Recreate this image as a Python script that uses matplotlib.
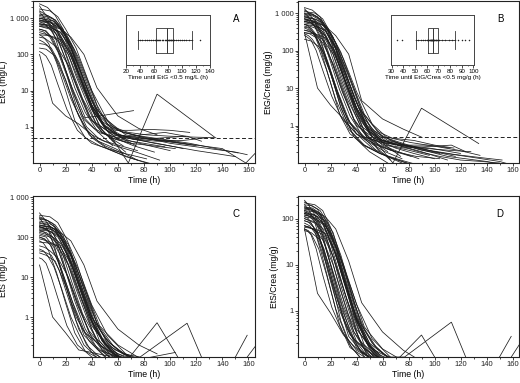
import matplotlib
matplotlib.use('Agg')
import matplotlib.pyplot as plt
from matplotlib.ticker import FixedLocator, FuncFormatter, LogLocator, MultipleLocator, NullFormatter

plt.rcParams['font.family'] = ['Liberation Sans', 'DejaVu Sans']

# ---------------- data: sampling times (h) per subject ----------------
times = [
    [0, 3, 7, 12, 18, 25, 33, 42, 55, 70],
    [0, 4, 9, 15, 22, 30, 38, 48, 62, 80, 96],
    [0, 10, 20, 30, 40, 50, 62, 75],
    [0, 8, 16, 24, 32, 42, 54, 68, 90, 134],
    [0, 6, 14, 22, 30, 40, 52, 64, 77, 113, 124],
    [0, 8, 16, 26, 36, 46, 60, 80, 100, 130, 150, 159],
    [0, 10, 20, 30, 40, 52, 66, 85, 110, 140, 158, 166],
    [0, 3, 8, 14, 21, 29, 40, 54, 70],
    [0, 4, 9, 16, 25, 35, 46, 60, 72],
    [0, 8, 16, 24, 34, 44, 60, 76, 90],
    [0, 4, 8, 14, 22, 30, 38, 48, 58, 70, 86, 104],
    [0, 6, 12, 18, 24, 32, 40, 50, 60, 76, 96, 120],
    [0, 8, 16, 24, 32, 40, 48, 58, 70, 84, 100, 115],
    [0, 3, 6, 11, 17, 24, 34, 45, 58, 75],
    [0, 6, 12, 20, 28, 38, 48, 60, 72, 90, 110, 128],
    [0, 8, 16, 24, 32, 42, 52, 64, 78, 95, 115, 135, 152],
    [0, 5, 12, 20, 28, 38, 50, 64],
    [0, 4, 10, 16, 22, 28, 36, 44, 54, 64],
    [0, 3, 8, 14, 21, 28, 36, 46, 58, 74, 92],
    [0, 8, 14, 20, 28, 36, 44, 52, 62, 74],
    [0, 3, 7, 13, 20, 27, 35, 46, 58, 72, 88],
    [0, 8, 16, 24, 34, 44, 56, 68, 82, 100, 118, 135],
    [0, 6, 12, 18, 26, 34, 42, 50, 60, 72, 88],
    [0, 2, 5, 9, 14, 21, 29, 40, 52, 66, 82],
    [0, 5, 11, 18, 25, 33, 43, 56, 72, 90, 110],
    [0, 6, 12, 18, 24, 30, 38, 46, 56, 66],
    [0, 5, 11, 18, 26, 34, 45, 60, 78, 96, 112],
    [0, 4, 10, 16, 22, 30, 38, 48, 58, 70, 84, 100],
    [0, 4, 9, 15, 22, 30, 40, 52, 66, 82],
    [0, 8, 14, 22, 30, 38, 46, 54, 64, 76, 90, 104],
    [0, 6, 12, 18, 24, 32, 40, 48, 58],
    [0, 8, 16, 24, 32, 40, 50, 60, 72, 86, 100, 116],
    [0, 3, 8, 13, 20, 27, 35, 45, 56],
    [0, 6, 14, 22, 30, 40, 50, 62, 74, 88, 104, 120, 136, 150],
]

# EtG (mg/L)
etg = [
    [1500, 1100, 700, 300, 60, 10, 2, 0.9, 0.5, 0.35],
    [800, 700, 450, 200, 50, 9, 1.8, 0.7, 0.45, 0.35, 0.28],
    [100, 4.5, 2.0, 1.2, 0.6, 0.4, 0.3, 0.22],
    [600, 500, 300, 90, 15, 2.5, 0.6, 0.1, 8, 0.52],
    [400, 350, 250, 100, 20, 3, 0.8, 0.5, 0.45, 0.55, 0.4],
    [900, 800, 500, 150, 20, 2.5, 0.8, 0.5, 0.35, 0.25, 0.2, 0.17],
    [1000, 850, 400, 80, 10, 1.5, 0.6, 0.45, 0.35, 0.25, 0.1, 0.2],
    [2200, 1500, 900, 400, 80, 12, 1.5, 0.7, 0.5],
    [500, 450, 300, 90, 12, 1.8, 2.0, 2.4, 2.8],
    [700, 650, 500, 300, 100, 12, 2, 0.9, 0.6],
    [300, 280, 220, 150, 50, 10, 2, 0.7, 0.45, 0.35, 0.3, 0.25],
    [1100, 1000, 800, 400, 150, 25, 4, 1, 0.6, 0.5, 0.4, 0.3],
    [700, 600, 400, 150, 30, 5, 1.4, 0.8, 0.8, 0.85, 0.8, 0.7],
    [250, 220, 180, 100, 30, 6, 1, 0.4, 0.25, 0.12],
    [1300, 1200, 900, 350, 70, 8, 1.2, 0.6, 0.45, 0.4, 0.42, 0.5],
    [600, 550, 420, 160, 30, 4, 1.2, 0.7, 0.55, 0.45, 0.35, 0.25, 0.19],
    [150, 140, 90, 20, 3, 0.6, 0.3, 0.18],
    [900, 800, 600, 300, 100, 25, 5, 1.1, 0.5, 0.3],
    [450, 420, 300, 120, 25, 4, 1, 0.45, 0.3, 0.2, 0.12],
    [1800, 1600, 1100, 500, 150, 25, 4, 1.2, 0.5, 0.3],
    [350, 300, 200, 60, 10, 1.5, 0.5, 0.3, 0.2, 0.13, 0.09],
    [800, 750, 550, 200, 25, 3, 1, 0.7, 0.6, 0.55, 0.52, 0.5],
    [1000, 900, 600, 250, 60, 12, 2.5, 0.9, 0.45, 0.3, 0.2],
    [120, 110, 90, 50, 15, 3, 0.8, 0.35, 0.25, 0.18, 0.13],
    [650, 600, 450, 180, 35, 6, 1.3, 0.6, 0.45, 0.35, 0.25],
    [1200, 1100, 900, 500, 150, 30, 5, 1, 0.4, 0.2],
    [500, 450, 250, 60, 9, 1.6, 0.7, 0.5, 0.6, 0.7, 0.55],
    [1600, 1300, 1000, 500, 160, 30, 5, 1.2, 0.6, 0.4, 0.3, 0.22],
    [200, 190, 150, 60, 12, 2, 0.5, 0.25, 0.15, 0.1],
    [850, 800, 650, 280, 50, 8, 2, 1, 0.7, 0.55, 0.45, 0.4],
    [2500, 2000, 1200, 500, 120, 18, 3, 0.8, 0.35],
    [350, 330, 260, 110, 22, 4, 1, 0.6, 0.5, 0.45, 0.4, 0.32],
    [1000, 950, 700, 350, 70, 12, 2.5, 0.7, 0.3],
    [700, 650, 420, 150, 28, 4, 1.1, 0.6, 0.45, 0.35, 0.28, 0.22, 0.18, 0.15],
]

# EtG/Crea (mg/g)
etg_crea = [
    [1000, 800, 500, 220, 45, 8, 1.5, 0.6, 0.3, 0.2],
    [700, 600, 400, 160, 40, 7, 1.4, 0.5, 0.3, 0.22, 0.16],
    [300, 10, 3.5, 1.5, 0.6, 0.35, 0.2, 0.13],
    [500, 400, 250, 70, 12, 2, 0.4, 0.1, 2.9, 0.33],
    [350, 300, 200, 80, 15, 2, 0.5, 0.3, 0.25, 0.3, 0.2],
    [700, 600, 350, 100, 15, 2, 0.5, 0.3, 0.2, 0.14, 0.11, 0.09],
    [800, 650, 300, 60, 8, 1.1, 0.4, 0.25, 0.15, 0.11, 0.08, 0.1],
    [1300, 1000, 600, 250, 50, 8, 1, 0.45, 0.3],
    [400, 350, 220, 70, 9, 1.2, 0.5, 0.35, 0.3],
    [600, 550, 450, 250, 80, 4.6, 1.5, 0.8, 0.49],
    [350, 330, 260, 160, 45, 8, 1.5, 0.5, 0.3, 0.2, 0.15, 0.13],
    [900, 850, 650, 320, 110, 18, 3, 0.7, 0.4, 0.3, 0.25, 0.18],
    [600, 500, 330, 110, 22, 4, 1, 0.5, 0.45, 0.4, 0.3, 0.25],
    [280, 250, 200, 110, 30, 5, 0.8, 0.3, 0.18, 0.1],
    [1000, 950, 700, 280, 55, 6, 0.9, 0.4, 0.3, 0.25, 0.22, 0.2],
    [500, 450, 350, 120, 22, 3, 0.8, 0.4, 0.3, 0.22, 0.17, 0.14, 0.12],
    [200, 180, 120, 25, 3, 0.5, 0.2, 0.1],
    [700, 650, 500, 240, 80, 18, 3.5, 0.8, 0.35, 0.2],
    [420, 400, 280, 100, 20, 3, 0.7, 0.3, 0.18, 0.12, 0.08],
    [1100, 1000, 700, 300, 90, 15, 2.5, 0.7, 0.3, 0.15],
    [500, 450, 300, 90, 14, 2, 0.6, 0.3, 0.18, 0.12, 0.08],
    [650, 600, 450, 160, 20, 2.4, 0.7, 0.45, 0.35, 0.28, 0.22, 0.16],
    [850, 750, 500, 200, 45, 9, 1.8, 0.6, 0.3, 0.2, 0.13],
    [250, 230, 190, 100, 30, 6, 1.5, 0.6, 0.35, 0.22, 0.15],
    [600, 550, 400, 150, 28, 5, 1, 0.45, 0.3, 0.2, 0.12],
    [950, 900, 700, 400, 110, 22, 3.5, 0.7, 0.25, 0.12],
    [450, 400, 220, 50, 7, 1.2, 0.5, 0.35, 0.3, 0.3, 0.25],
    [1200, 1000, 800, 380, 120, 22, 3.5, 0.8, 0.4, 0.25, 0.18, 0.13],
    [300, 280, 220, 80, 15, 2.5, 0.6, 0.25, 0.14, 0.09],
    [750, 700, 550, 230, 40, 6, 1.5, 0.7, 0.45, 0.3, 0.22, 0.18],
    [1400, 1200, 800, 330, 80, 12, 2, 0.5, 0.2],
    [300, 280, 220, 90, 18, 3, 0.7, 0.4, 0.3, 0.25, 0.2, 0.15],
    [800, 750, 550, 260, 50, 9, 1.8, 0.5, 0.2],
    [550, 500, 320, 110, 20, 3, 0.8, 0.4, 0.28, 0.2, 0.15, 0.12, 0.11, 0.1],
]

# EtS (mg/L)
ets = [
    [300, 220, 140, 50, 10, 2, 0.5, 0.2, 0.09, 0.05],
    [150, 130, 90, 40, 9, 1.8, 0.45, 0.18, 0.1, 0.07, 0.05],
    [20, 1.0, 0.4, 0.15, 0.13, 0.11, 0.1, 0.08],
    [120, 100, 60, 15, 3, 0.5, 0.15, 0.09, 0.72, 0.003],
    [90, 80, 60, 20, 4, 0.6, 0.2, 0.12, 0.1, 0.7, 0.1],
    [200, 170, 100, 25, 4, 0.6, 0.2, 0.08, 0.05, 0.04, 0.1, 0.35],
    [180, 150, 70, 15, 2, 0.35, 0.12, 0.07, 0.05, 0.04, 0.09, 0.2],
    [400, 300, 180, 70, 12, 2, 0.3, 0.12, 0.08],
    [100, 90, 60, 18, 2.5, 0.4, 0.2, 0.1, 0.08],
    [200, 180, 130, 80, 20, 2.5, 0.5, 0.2, 0.12],
    [60, 55, 45, 30, 10, 2, 0.4, 0.15, 0.1, 0.08, 0.1, 0.13],
    [250, 230, 180, 90, 35, 6, 1, 0.3, 0.15, 0.08, 0.06, 0.05],
    [130, 110, 70, 25, 5, 1, 0.3, 0.15, 0.1, 0.08, 0.06, 0.05],
    [50, 45, 35, 18, 5, 1, 0.2, 0.09, 0.06, 0.04],
    [220, 200, 150, 60, 12, 1.5, 0.25, 0.1, 0.07, 0.05, 0.04, 0.03],
    [150, 140, 100, 35, 6, 0.8, 0.25, 0.12, 0.08, 0.06, 0.05, 0.05, 0.05],
    [40, 35, 25, 6, 1, 0.25, 0.1, 0.07],
    [180, 160, 130, 60, 20, 5, 1, 0.25, 0.1, 0.06],
    [100, 90, 65, 25, 5, 0.8, 0.2, 0.1, 0.07, 0.05, 0.04],
    [350, 320, 230, 100, 25, 4, 0.7, 0.22, 0.09, 0.06],
    [80, 70, 45, 13, 2.2, 0.4, 0.14, 0.09, 0.07, 0.05, 0.04],
    [170, 160, 120, 40, 5, 0.7, 0.2, 0.1, 0.07, 0.05, 0.04, 0.03],
    [230, 210, 150, 60, 15, 3, 0.6, 0.2, 0.1, 0.06, 0.04],
    [30, 28, 22, 10, 3, 0.6, 0.2, 0.1, 0.07, 0.05, 0.04],
    [140, 130, 95, 35, 7, 1.2, 0.3, 0.12, 0.08, 0.06, 0.04],
    [280, 260, 200, 110, 35, 7, 1.2, 0.25, 0.1, 0.05],
    [110, 100, 55, 12, 2, 0.35, 0.15, 0.1, 0.08, 0.06, 0.05],
    [320, 280, 220, 110, 35, 6, 1, 0.25, 0.11, 0.07, 0.05, 0.04],
    [45, 42, 35, 15, 3, 0.5, 0.13, 0.08, 0.05, 0.04],
    [190, 180, 150, 65, 12, 2, 0.5, 0.22, 0.12, 0.08, 0.06, 0.05],
    [300, 260, 170, 70, 18, 3, 0.5, 0.15, 0.07],
    [75, 70, 55, 22, 4.5, 0.8, 0.22, 0.12, 0.09, 0.07, 0.05, 0.04],
    [180, 170, 130, 65, 14, 2.5, 0.5, 0.15, 0.07],
    [160, 150, 100, 35, 6, 0.8, 0.22, 0.1, 0.07, 0.05, 0.04, 0.03, 0.03, 0.03],
]

# EtS/Crea (mg/g)
ets_crea = [
    [200, 160, 100, 35, 7, 1.4, 0.4, 0.15, 0.07, 0.04],
    [130, 110, 80, 30, 7, 1.3, 0.35, 0.14, 0.08, 0.05, 0.04],
    [60, 2.4, 0.9, 0.3, 0.15, 0.1, 0.07, 0.05],
    [100, 80, 45, 10, 2, 0.35, 0.11, 0.07, 0.3, 0.0025],
    [70, 60, 45, 15, 3, 0.4, 0.15, 0.1, 0.1, 0.57, 0.1],
    [150, 120, 70, 18, 3, 0.45, 0.15, 0.07, 0.05, 0.04, 0.1, 0.28],
    [140, 110, 50, 10, 1.4, 0.25, 0.1, 0.06, 0.04, 0.03, 0.09, 0.2],
    [250, 200, 120, 45, 8, 1.3, 0.22, 0.1, 0.06],
    [80, 70, 45, 12, 1.8, 0.3, 0.15, 0.08, 0.06],
    [160, 150, 110, 60, 12, 1.5, 0.35, 0.14, 0.08],
    [70, 65, 55, 35, 10, 1.8, 0.35, 0.12, 0.08, 0.06, 0.05, 0.04],
    [180, 170, 130, 65, 25, 4, 0.7, 0.2, 0.12, 0.07, 0.05, 0.04],
    [100, 85, 55, 18, 3.5, 0.7, 0.22, 0.11, 0.08, 0.06, 0.05, 0.04],
    [60, 55, 42, 22, 6, 1.1, 0.2, 0.08, 0.05, 0.03],
    [170, 160, 120, 45, 9, 1.1, 0.2, 0.09, 0.06, 0.04, 0.03, 0.03],
    [110, 100, 75, 25, 4.5, 0.6, 0.2, 0.1, 0.07, 0.05, 0.04, 0.04, 0.04],
    [55, 50, 35, 8, 1.2, 0.25, 0.09, 0.06],
    [130, 120, 100, 45, 15, 3.5, 0.7, 0.18, 0.08, 0.05],
    [90, 85, 60, 22, 4, 0.6, 0.16, 0.08, 0.06, 0.04, 0.03],
    [220, 200, 150, 65, 16, 2.6, 0.45, 0.15, 0.07, 0.05],
    [110, 100, 65, 18, 3, 0.5, 0.16, 0.1, 0.07, 0.05, 0.04],
    [130, 120, 90, 30, 3.5, 0.5, 0.15, 0.08, 0.06, 0.04, 0.03, 0.03],
    [170, 150, 110, 45, 11, 2.2, 0.45, 0.15, 0.08, 0.05, 0.03],
    [60, 55, 45, 22, 6, 1.2, 0.35, 0.14, 0.09, 0.06, 0.04],
    [120, 110, 80, 28, 5, 0.9, 0.22, 0.1, 0.07, 0.05, 0.03],
    [200, 190, 150, 80, 25, 5, 0.8, 0.18, 0.08, 0.04],
    [90, 80, 45, 10, 1.5, 0.28, 0.12, 0.08, 0.06, 0.05, 0.04],
    [230, 200, 160, 80, 25, 4.5, 0.8, 0.2, 0.09, 0.06, 0.04, 0.03],
    [70, 65, 55, 22, 4, 0.7, 0.16, 0.09, 0.06, 0.04],
    [150, 140, 115, 50, 9, 1.5, 0.4, 0.17, 0.1, 0.07, 0.05, 0.04],
    [180, 160, 110, 45, 12, 2, 0.35, 0.11, 0.05],
    [65, 60, 48, 18, 3.5, 0.65, 0.18, 0.1, 0.07, 0.05, 0.04, 0.03],
    [140, 130, 100, 50, 10, 1.8, 0.35, 0.11, 0.05],
    [120, 110, 75, 25, 4.5, 0.6, 0.17, 0.08, 0.06, 0.04, 0.03, 0.03, 0.03, 0.03],
]

# inset data: time until value < 0.5 (h)
etg_cutoff_times = [37, 40, 43, 47, 50, 53, 56, 59, 61, 62,
                    63, 64, 65, 67, 69, 71, 73, 75, 77, 78,
                    79, 80, 81, 82, 83, 84, 85, 86, 86.5, 87,
                    88, 91, 94, 97, 100, 103, 106, 110, 115, 126]
etgc_cutoff_times = [35, 39, 50.5, 53, 55, 57, 58.5, 60, 61, 61.3,
                     61.5, 62, 62.5, 63, 63.3, 63.6, 64, 64.3, 64.6, 64.9,
                     65.1, 65.4, 65.8, 66.2, 66.7, 67.2, 67.8, 68.4, 69, 69.5,
                     70.5, 73, 76, 79, 82, 84, 87, 90, 93, 96]

y_labels = ['EtG (mg/L)', 'EtG/Crea (mg/g)', 'EtS (mg/L)', 'EtS/Crea (mg/g)']
panel_letters = ['A', 'B', 'C', 'D']
cutoff = 0.5

# ---------------- figure ----------------
W, H = 520, 383
fig = plt.figure(figsize=(W / 100, H / 100), dpi=100)

def px_rect(x0, y0, x1, y1):
    return [x0 / W, 1 - y1 / H, (x1 - x0) / W, (y1 - y0) / H]

rects = [px_rect(33, 1, 255, 163), px_rect(298, 1, 519, 163),
         px_rect(33, 196, 255, 357), px_rect(298, 196, 519, 357)]
ylims = [(0.1, 3000), (0.1, 2100), (0.1, 1060), (0.1, 310)]
yticks = [[1, 10, 100, 1000], [1, 10, 100, 1000], [1, 10, 100, 1000], [1, 10, 100]]
datasets = [etg, etg_crea, ets, ets_crea]

def yfmt(v, pos):
    if v >= 1000:
        return '1 000'
    return f'{v:g}'

line_col = '#1c1c1c'
for i in range(4):
    ax = fig.add_axes(rects[i])
    for t, v in zip(times, datasets[i]):
        ax.plot(t, v, color=line_col, lw=0.55, solid_joinstyle='miter')
    ax.set_yscale('log')
    ax.set_xlim(-5, 165)
    ax.set_ylim(*ylims[i])
    ax.yaxis.set_major_locator(FixedLocator(yticks[i]))
    ax.yaxis.set_major_formatter(FuncFormatter(yfmt))
    ax.yaxis.set_minor_locator(LogLocator(base=10, subs=range(2, 10)))
    ax.yaxis.set_minor_formatter(NullFormatter())
    ax.xaxis.set_major_locator(MultipleLocator(20))
    ax.xaxis.set_minor_locator(MultipleLocator(10))
    ax.set_xticks(range(0, 161, 20))
    ax.tick_params(which='major', length=2, width=0.6, labelsize=5.5, pad=1, colors='#222222')
    ax.tick_params(which='minor', length=1.1, width=0.5)
    for s in ax.spines.values():
        s.set_linewidth(0.8)
        s.set_color('#222222')
    ax.set_xlabel('Time (h)', fontsize=6.3, labelpad=1.5)
    ax.set_ylabel(y_labels[i], fontsize=6.2, labelpad=1.5)
    ax.text(0.915, 0.89, panel_letters[i], transform=ax.transAxes, fontsize=7,
            ha='center', va='center')
    if i < 2:
        ax.axhline(cutoff, color='#222222', lw=0.7, ls=(0, (4, 2.5)))

# ---------------- insets ----------------
inset_specs = [
    (px_rect(126, 15, 210, 65), etg_cutoff_times, (19.5, 140.5), 20, 10, 1.5,
     'Time until EtG <0.5 mg/L (h)'),
    (px_rect(391, 15, 474, 65), etgc_cutoff_times, (29.5, 100.5), 10, 5, 1.8,
     'Time until EtG/Crea <0.5 mg/g (h)'),
]
for rect, data, xl, major, minor, whis, label in inset_specs:
    iax = fig.add_axes(rect)
    lp = dict(color='#333333', lw=0.6)
    iax.boxplot(data, vert=False, positions=[1], widths=1.0, whis=whis,
                capwidths=0.7, boxprops=lp, whiskerprops=lp, capprops=lp,
                medianprops=dict(color='#333333', lw=0.7),
                flierprops=dict(marker='.', markersize=1.5, markerfacecolor='#333333',
                                markeredgecolor='none'))
    iax.scatter(data, [1] * len(data), s=1.2, color='#222222', zorder=3, lw=0)
    iax.set_xlim(*xl)
    iax.set_ylim(0, 2)
    iax.set_yticks([])
    iax.xaxis.set_major_locator(MultipleLocator(major))
    iax.xaxis.set_minor_locator(MultipleLocator(minor))
    iax.tick_params(which='major', length=1.8, width=0.5, labelsize=4.5, pad=1)
    iax.tick_params(which='minor', length=1.0, width=0.4)
    for s in iax.spines.values():
        s.set_linewidth(0.7)
        s.set_color('#444444')
    iax.set_xlabel(label, fontsize=4.6, labelpad=1)

fig.savefig('out.png', dpi=100)
